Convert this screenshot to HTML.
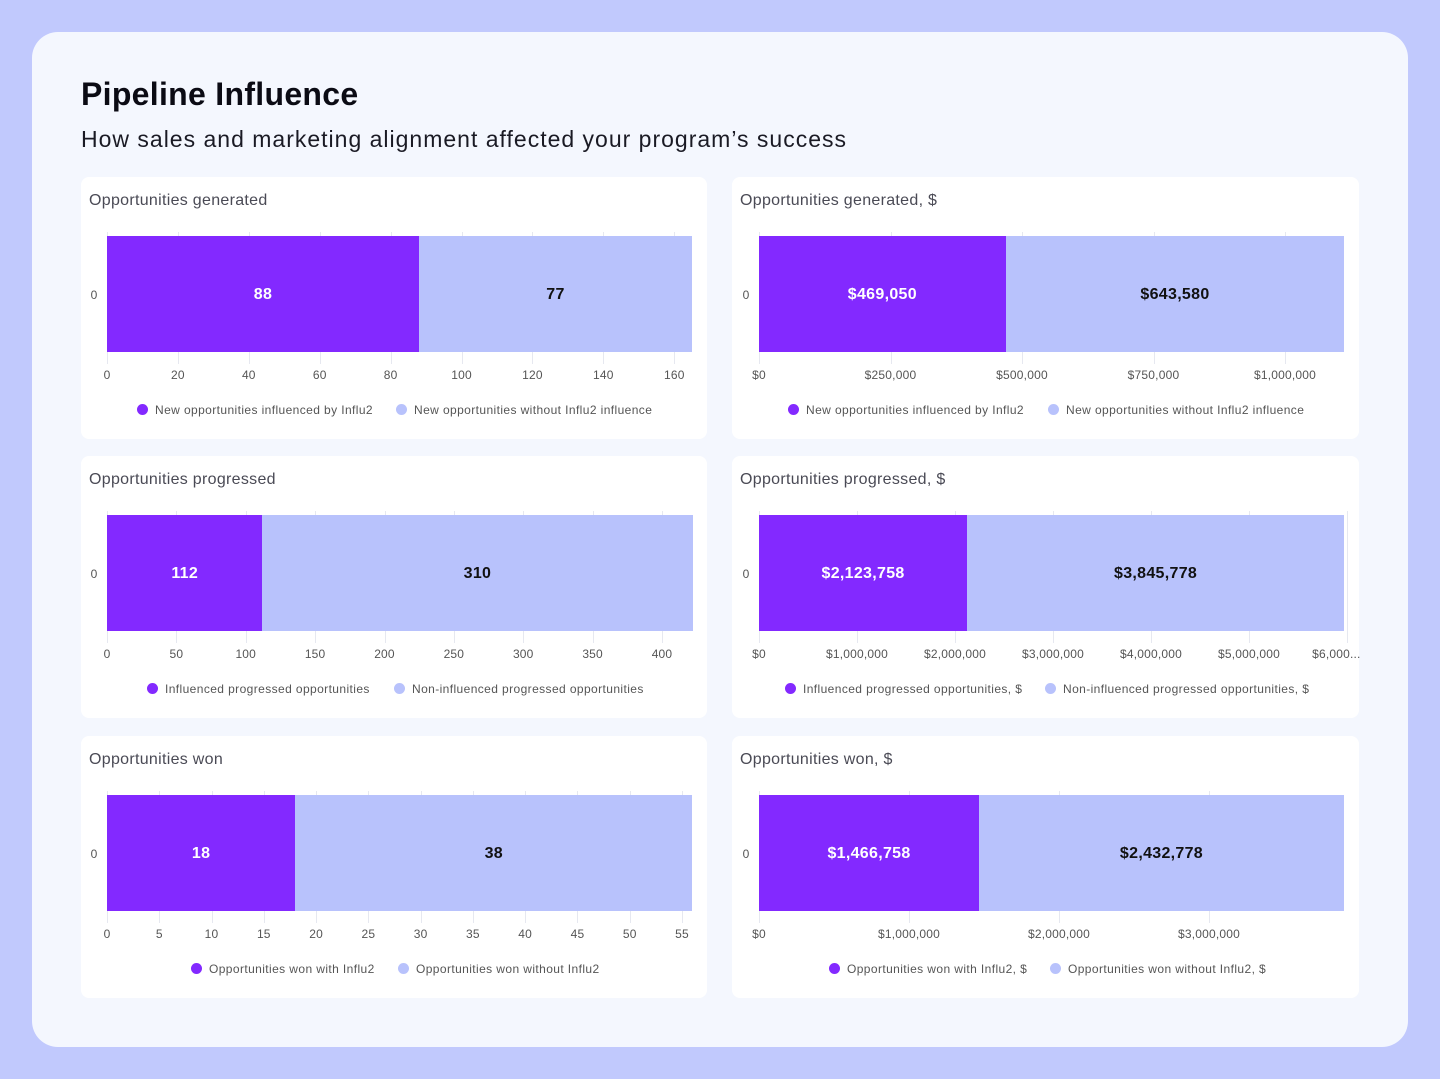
<!DOCTYPE html>
<html><head><meta charset="utf-8"><style>
body{margin:0;width:1440px;height:1079px;background:#c1c9fd;font-family:"Liberation Sans",sans-serif;position:relative;overflow:hidden}
#card{position:absolute;left:32px;top:32px;width:1376px;height:1015px;background:#f4f7fe;border-radius:26px}
.abs{position:absolute}
h1{position:absolute;left:81px;top:76px;margin:0;font-size:32px;font-weight:bold;color:#0b0b14;letter-spacing:0.3px}
.sub{left:81px;top:126px;font-size:23px;color:#1a1a24;letter-spacing:1px;white-space:nowrap}
.panel{position:absolute;background:#fff;border-radius:8px}
.t{font-size:16px;color:#4a4a55;letter-spacing:0.3px}
.tick{font-size:12px;color:#555;transform:translateX(-50%);white-space:nowrap;letter-spacing:0.2px}
.leg{font-size:12px;color:#555;white-space:nowrap;letter-spacing:0.4px}
.dot{display:inline-block;width:11px;height:11px;border-radius:50%;vertical-align:-1px;margin-right:7px}
.val{font-size:16px;font-weight:bold;transform:translate(-50%,-50%);white-space:nowrap;letter-spacing:0.3px}
.grid{width:1px;background:#e6e8f0}
</style></head><body>
<div id="card"></div>
<h1>Pipeline Influence</h1>
<div class="abs sub">How sales and marketing alignment affected your program’s success</div>
<div id="root"></div>
<script>
var P='#8329ff',L='#b8c2fc';
var charts=[
{x:81,y:177,w:626,title:'Opportunities generated',x0:107,ppu:585/165,a:88,b:77,fa:'88',fb:'77',ticks:[0,20,40,60,80,100,120,140,160],lab:function(v){return v},legs:['New opportunities influenced by Influ2','New opportunities without Influ2 influence'],lx:[137,396]},
{x:732,y:177,w:627,title:'Opportunities generated, $',x0:759,ppu:526/1e6,a:469050,b:643580,fa:'$469,050',fb:'$643,580',ticks:[0,250000,500000,750000,1000000],lab:function(v){return '$'+v.toLocaleString('en-US')},legs:['New opportunities influenced by Influ2','New opportunities without Influ2 influence'],lx:[788,1048]},
{x:81,y:456,w:626,title:'Opportunities progressed',x0:107,ppu:555/400,a:112,b:310,fa:'112',fb:'310',ticks:[0,50,100,150,200,250,300,350,400],lab:function(v){return v},legs:['Influenced progressed opportunities','Non-influenced progressed opportunities'],lx:[147,394]},
{x:732,y:456,w:627,title:'Opportunities progressed, $',x0:759,ppu:98/1e6,a:2123758,b:3845778,fa:'$2,123,758',fb:'$3,845,778',ticks:[0,1e6,2e6,3e6,4e6,5e6,6e6],lab:function(v){return v==6e6?'$6,000...':'$'+v.toLocaleString('en-US')},legs:['Influenced progressed opportunities, $','Non-influenced progressed opportunities, $'],lx:[785,1045]},
{x:81,y:736,w:626,title:'Opportunities won',x0:107,ppu:575/55,a:18,b:38,fa:'18',fb:'38',ticks:[0,5,10,15,20,25,30,35,40,45,50,55],lab:function(v){return v},legs:['Opportunities won with Influ2','Opportunities won without Influ2'],lx:[191,398]},
{x:732,y:736,w:627,title:'Opportunities won, $',x0:759,ppu:150/1e6,a:1466758,b:2432778,fa:'$1,466,758',fb:'$2,432,778',ticks:[0,1e6,2e6,3e6],lab:function(v){return '$'+v.toLocaleString('en-US')},legs:['Opportunities won with Influ2, $','Opportunities won without Influ2, $'],lx:[829,1050]}
];
var h='';
charts.forEach(function(c){
 var dy=c.y-177;
 h+='<div class="panel" style="left:'+c.x+'px;top:'+c.y+'px;width:'+c.w+'px;height:262px"></div>';
 h+='<div class="abs t" style="left:'+(c.x+8)+'px;top:'+(c.y+15)+'px">'+c.title+'</div>';
 c.ticks.forEach(function(t){var px=c.x0+t*c.ppu;
  h+='<div class="abs grid" style="left:'+px+'px;top:'+(232+dy)+'px;height:132px"></div>';
  var s=c.lab(t);
  h+='<div class="abs tick" style="left:'+px+'px;top:'+(368+dy)+'px'+(s=='$6,000...'?';transform:translateX(-72%)':'')+'">'+s+'</div>';});
 var xa=c.x0+c.a*c.ppu, xb=xa+c.b*c.ppu;
 h+='<div class="abs" style="left:'+c.x0+'px;top:'+(236+dy)+'px;width:'+(xa-c.x0)+'px;height:116px;background:'+P+'"></div>';
 h+='<div class="abs" style="left:'+xa+'px;top:'+(236+dy)+'px;width:'+(xb-xa)+'px;height:116px;background:'+L+'"></div>';
 h+='<div class="abs val" style="left:'+((c.x0+xa)/2)+'px;top:'+(295+dy)+'px;color:#fff">'+c.fa+'</div>';
 h+='<div class="abs val" style="left:'+((xa+xb)/2)+'px;top:'+(295+dy)+'px;color:#111">'+c.fb+'</div>';
 h+='<div class="abs tick" style="left:'+(c.x0-13)+'px;top:'+(288+dy)+'px">0</div>';
 h+='<div class="abs leg" style="left:'+c.lx[0]+'px;top:'+(403+dy)+'px"><span class="dot" style="background:'+P+'"></span>'+c.legs[0]+'</div>';
 h+='<div class="abs leg" style="left:'+c.lx[1]+'px;top:'+(403+dy)+'px"><span class="dot" style="background:'+L+'"></span>'+c.legs[1]+'</div>';
});
document.getElementById('root').innerHTML=h;
</script>
</body></html>
